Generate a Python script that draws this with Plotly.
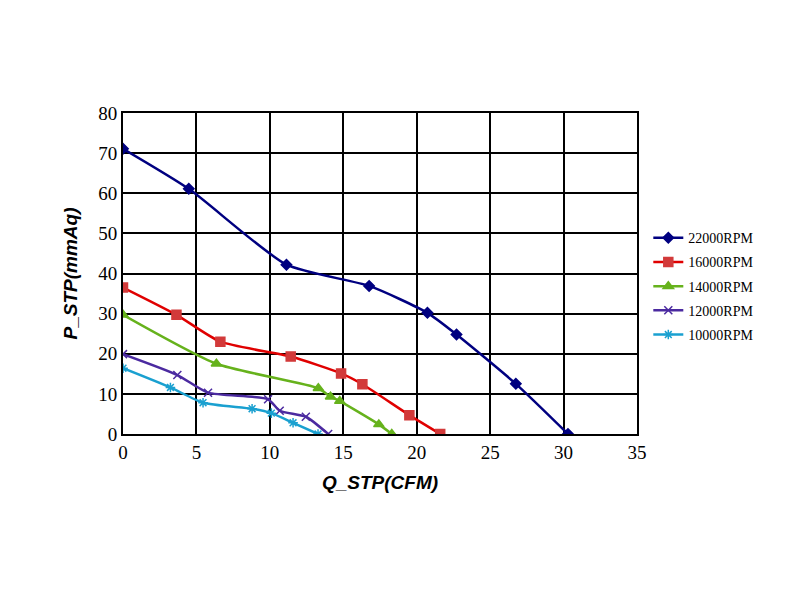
import plotly.graph_objects as go

names = ["22000RPM", "16000RPM", "14000RPM", "12000RPM", "10000RPM"]

q_22000 = [0, 4.48, 11.13, 16.76, 20.73, 22.71, 26.75, 30.3]
p_22000 = [71.1, 61.1, 42.2, 36.9, 30.2, 24.8, 12.5, 0]

q_16000 = [0, 3.64, 6.63, 11.42, 14.85, 16.3, 19.5, 21.6]
p_16000 = [36.5, 29.7, 23.0, 19.3, 15.1, 12.4, 4.7, 0]

q_14000 = [0, 6.36, 13.3, 14.13, 14.76, 17.42, 18.3]
p_14000 = [29.7, 17.5, 11.4, 9.3, 8.2, 2.4, 0]

q_12000 = [0, 3.7, 5.79, 9.88, 10.67, 12.45, 13.97]
p_12000 = [19.9, 14.7, 10.3, 8.65, 5.8, 4.3, 0]

q_10000 = [0, 3.23, 5.45, 8.79, 10.1, 11.58, 13.28]
p_10000 = [16.4, 11.6, 7.8, 6.3, 5.2, 2.8, 0]

x_ticks = [0, 5, 10, 15, 20, 25, 30, 35]
y_ticks = [0, 10, 20, 30, 40, 50, 60, 70, 80]

series = [
    (q_22000, p_22000, "#000080", "#000080", "diamond", 8),
    (q_16000, p_16000, "#e00000", "#d23a3a", "square", 9),
    (q_14000, p_14000, "#66b21c", "#66b21c", "triangle-up", 9),
    (q_12000, p_12000, "#4b2aa0", "#4b2aa0", "x-thin-open", 8),
    (q_10000, p_10000, "#1aa0d0", "#1aa0d0", "asterisk-open", 8),
]

fig = go.Figure()
for name, (xs, ys, lc, mc, sym, ms) in zip(names, series):
    fig.add_trace(go.Scatter(
        x=xs, y=ys, name=name, mode="lines+markers", legendgroup=name,
        line=dict(color=lc, width=2.5, shape="spline", smoothing=0.6),
        marker=dict(symbol=sym, size=ms, color=mc,
                    line=dict(color=mc, width=1.5)),
    ))

serif = "Liberation Serif"
fig.update_layout(
    width=800, height=600,
    paper_bgcolor="white", plot_bgcolor="white",
    margin=dict(l=123, r=163, t=113, b=166),
    showlegend=True,
    legend=dict(x=1.022, y=0.66, xanchor="left", yanchor="top",
                font=dict(family=serif, size=14, color="black"),
                traceorder="grouped", tracegroupgap=3, itemwidth=30,
                bgcolor="rgba(0,0,0,0)"),
    xaxis=dict(range=[0, 35], tickvals=x_ticks, showgrid=True,
               gridcolor="black", gridwidth=2, zeroline=False,
               showline=True, linecolor="black", linewidth=2, mirror=True,
               ticks="", tickfont=dict(family=serif, size=19, color="black"),
               title=dict(text="<b><i>Q_STP(CFM)</i></b>", standoff=14,
                          font=dict(family="Liberation Sans", size=19, color="black"))),
    yaxis=dict(range=[0, 80], tickvals=y_ticks, showgrid=True,
               gridcolor="black", gridwidth=2, zeroline=False,
               showline=True, linecolor="black", linewidth=2, mirror=True,
               ticks="", tickfont=dict(family=serif, size=19, color="black"),
               title=dict(text="<b><i>P_STP(mmAq)</i></b>", standoff=16,
                          font=dict(family="Liberation Sans", size=19, color="black"))),
)

fig.write_html("out.html")
